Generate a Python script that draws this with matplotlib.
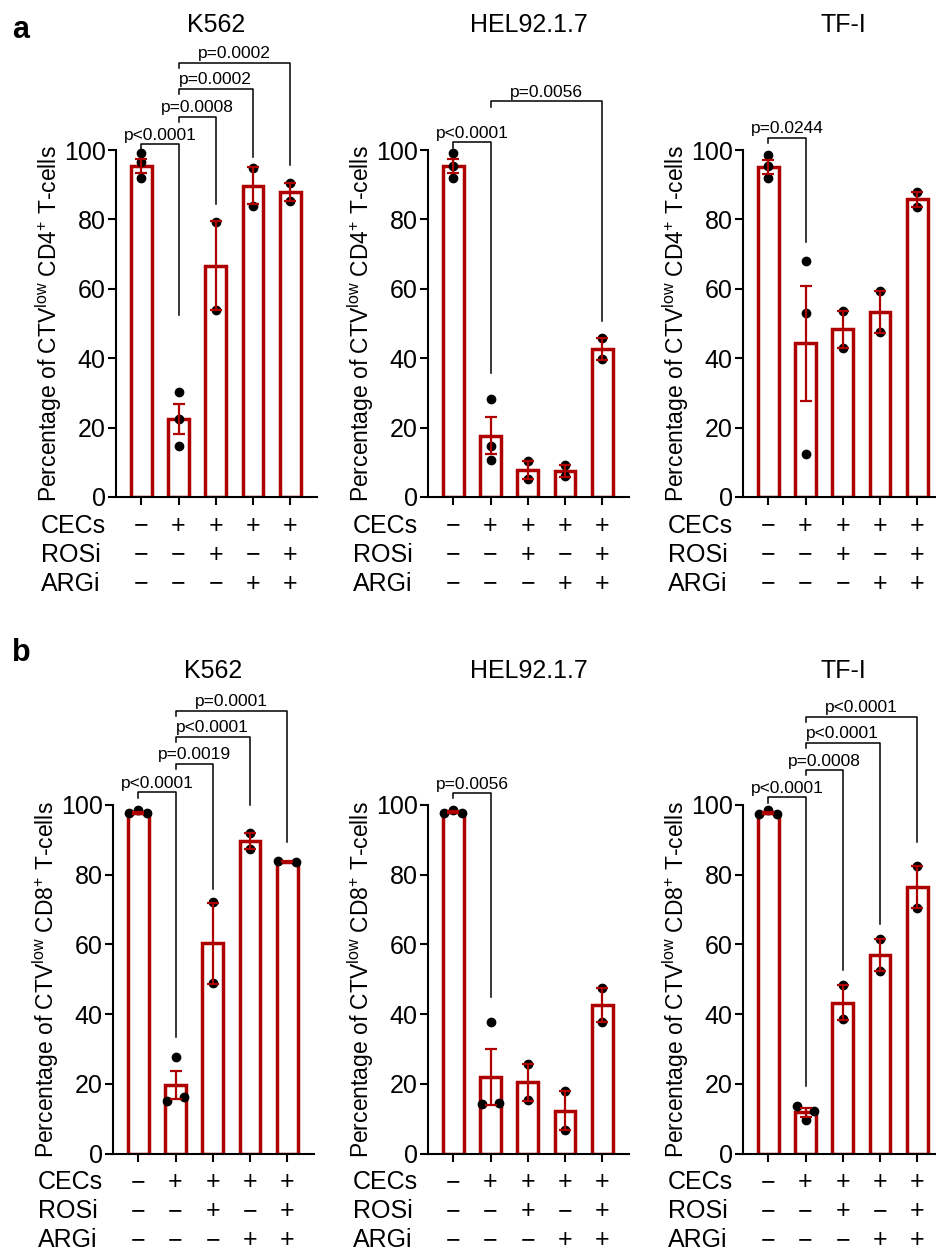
import matplotlib
matplotlib.use("Agg")
import matplotlib.pyplot as plt
import numpy as np

plt.rcParams['font.family'] = ['Liberation Sans', 'DejaVu Sans']
plt.rcParams['mathtext.fontset'] = 'custom'
plt.rcParams['mathtext.rm'] = 'Liberation Sans'
plt.rcParams['mathtext.it'] = 'Liberation Sans:italic'

cell_lines = ['K562', 'HEL92.1.7', 'TF-I']
row_names = ['CECs', 'ROSi', 'ARGi']
cec_signs = ['\u2212', '+', '+', '+', '+']
rosi_signs = ['\u2212', '\u2212', '+', '\u2212', '+']
argi_signs = ['\u2212', '\u2212', '\u2212', '+', '+']

# CD4+ T cells (panel a)
cd4_means = [[95.5, 22.5, 66.7, 89.7, 88.0],
             [95.4, 17.7, 7.7, 7.5, 42.7],
             [95.2, 44.3, 48.3, 53.4, 85.8]]
cd4_sem = [[2.0, 4.4, 12.7, 5.4, 2.6],
           [1.9, 5.3, 2.6, 1.6, 3.1],
           [2.0, 16.6, 5.3, 6.0, 2.2]]
cd4_points = [
    [[99.0, 96.5, 92.0], [30.3, 22.5, 14.8], [79.3, 54.0], [94.8, 84.0], [90.5, 85.2]],
    [[99.1, 95.5, 92.0], [28.2, 14.7, 10.6], [10.4, 5.1], [9.2, 6.0], [45.9, 39.7]],
    [[98.7, 95.4, 91.8], [68.1, 53.1, 12.4], [53.7, 43.0], [59.5, 47.6], [88.0, 83.7]],
]
# (left bar, right bar, bracket height, right leg end, label)
cd4_brackets = [
    [(0, 1, 101.7, 52.4, 'p<0.0001'), (1, 2, 109.6, 84.4, 'p=0.0008'),
     (1, 3, 117.6, 98.1, 'p=0.0002'), (1, 4, 125.2, 95.7, 'p=0.0002')],
    [(0, 1, 102.2, 35.6, 'p<0.0001'), (1, 4, 114.0, 50.6, 'p=0.0056')],
    [(0, 1, 103.6, 73.6, 'p=0.0244')],
]

# CD8+ T cells (panel b)
cd8_means = [[97.8, 19.6, 60.3, 89.7, 83.7],
             [97.9, 22.0, 20.4, 12.3, 42.6],
             [97.7, 11.8, 43.3, 57.0, 76.5]]
cd8_sem = [[0.3, 4.1, 11.7, 2.4, 0.1],
           [0.3, 8.0, 5.2, 5.6, 4.8],
           [0.4, 1.2, 5.0, 4.6, 6.1]]
cd8_points = [
    [[98.5, 97.6, 97.6], [27.7, 15.0, 16.1], [72.1, 48.8], [92.0, 87.3], [83.8, 83.6]],
    [[98.5, 97.6, 97.6], [37.8, 14.1, 14.4], [25.6, 15.3], [17.9, 6.8], [47.4, 37.8]],
    [[98.5, 97.4, 97.4], [13.7, 12.3, 9.7], [48.4, 38.5], [61.6, 52.5], [82.6, 70.4]],
]
cd8_brackets = [
    [(0, 1, 103.6, 33.3, 'p<0.0001'), (1, 2, 111.8, 75.8, 'p=0.0019'),
     (1, 3, 119.6, 100.0, 'p<0.0001'), (1, 4, 127.0, 89.5, 'p=0.0001')],
    [(0, 1, 103.4, 44.8, 'p=0.0056')],
    [(0, 1, 102.2, 19.4, 'p<0.0001'), (1, 2, 110.0, 52.7, 'p=0.0008'),
     (1, 3, 117.9, 65.9, 'p<0.0001'), (1, 4, 125.3, 89.5, 'p<0.0001')],
]

RED = '#AE0000'
W, H = 936, 1251


def spread(vals, d=0.24, tol=2.0):
    # push overlapping dots sideways, GraphPad style
    vals = np.asarray(vals)
    groups = []
    for idx in np.argsort(vals):
        if groups and vals[idx] - vals[groups[-1][-1]] < tol:
            groups[-1].append(idx)
        else:
            groups.append([idx])
    pattern = {1: [0], 2: [-d, d], 3: [0, -d, d]}
    offs = np.zeros(len(vals))
    for g in groups:
        for k, idx in enumerate(sorted(g)):
            offs[idx] = pattern[len(g)][k]
    return offs


def draw_panel(ax, means, sem, points, brackets, cd):
    x = np.arange(len(means))
    ax.bar(x, means, width=0.56, color='white', edgecolor=RED, linewidth=2.5, zorder=2)
    for i, pts in enumerate(points):
        ax.plot(i + spread(pts), pts, 'o', color='black', ms=6, zorder=3, clip_on=False)
    ax.errorbar(x, means, yerr=sem, fmt='none', ecolor=RED, elinewidth=1.6,
                capsize=4.6, capthick=1.6, zorder=4)

    for i, j, level, leg_end, label in brackets:
        ax.plot([i, i, j, j], [level - 1.5, level, level, leg_end], color='black',
                lw=1.1, clip_on=False, zorder=5)
        ax.annotate(label, xy=((i + j) / 2, level), xytext=(0, 3.2),
                    textcoords='offset points', ha='center', va='baseline',
                    fontsize=12.5, annotation_clip=False)

    ax.set_xlim(-0.68, 4.72)
    ax.set_ylim(0, 100)
    ax.set_yticks([0, 20, 40, 60, 80, 100])
    ax.set_xticks(x)
    ax.set_xticklabels([])
    for s in ['top', 'right']:
        ax.spines[s].set_visible(False)
    for s in ['left', 'bottom']:
        ax.spines[s].set_linewidth(1.5)
    ax.tick_params(axis='both', length=5.8, width=1.5, labelsize=18, pad=1.5)
    ax.set_ylabel(r'Percentage of CTV$^{\mathrm{low}}$ CD' + cd + r'$^{+}$ T-cells',
                  fontsize=16.5)
    ax.yaxis.set_label_coords(-0.26, 0.5)

    # treatment table under the bars
    for r, (name, signs) in enumerate(zip(row_names, [cec_signs, rosi_signs, argi_signs])):
        dy = -(25.6 + 20.9 * r)
        ax.annotate(name, xy=(0, 0), xycoords='axes fraction', xytext=(-54, dy),
                    textcoords='offset points', ha='left', va='baseline', fontsize=18,
                    annotation_clip=False)
        for i, s in enumerate(signs):
            ax.annotate(s, xy=(i, 0), xycoords=('data', 'axes fraction'), xytext=(0, dy),
                        textcoords='offset points', ha='center', va='baseline',
                        fontsize=18, annotation_clip=False)


fig = plt.figure(figsize=(W / 100, H / 100), dpi=100)

rows = [
    (cd4_means, cd4_sem, cd4_points, cd4_brackets, '4', 497, 150, [116, 428, 743], 32, 'a', 38),
    (cd8_means, cd8_sem, cd8_points, cd8_brackets, '8', 1153.5, 805, [113, 428, 743], 678, 'b', 661),
]
ax_w = 201
for means, sem, points, brackets, cd, y0, y100, lefts, title_y, letter, letter_y in rows:
    for k, left in enumerate(lefts):
        ax = fig.add_axes([left / W, 1 - y0 / H, ax_w / W, (y0 - y100) / H])
        draw_panel(ax, means[k], sem[k], points[k], brackets[k], cd)
        fig.text((left + ax_w / 2) / W, 1 - title_y / H, cell_lines[k], ha='center',
                 va='baseline', fontsize=18)
    fig.text(12 / W, 1 - letter_y / H, letter, fontsize=22, fontweight='bold',
             ha='left', va='baseline')

fig.savefig('out.png', dpi=100, facecolor='white')
